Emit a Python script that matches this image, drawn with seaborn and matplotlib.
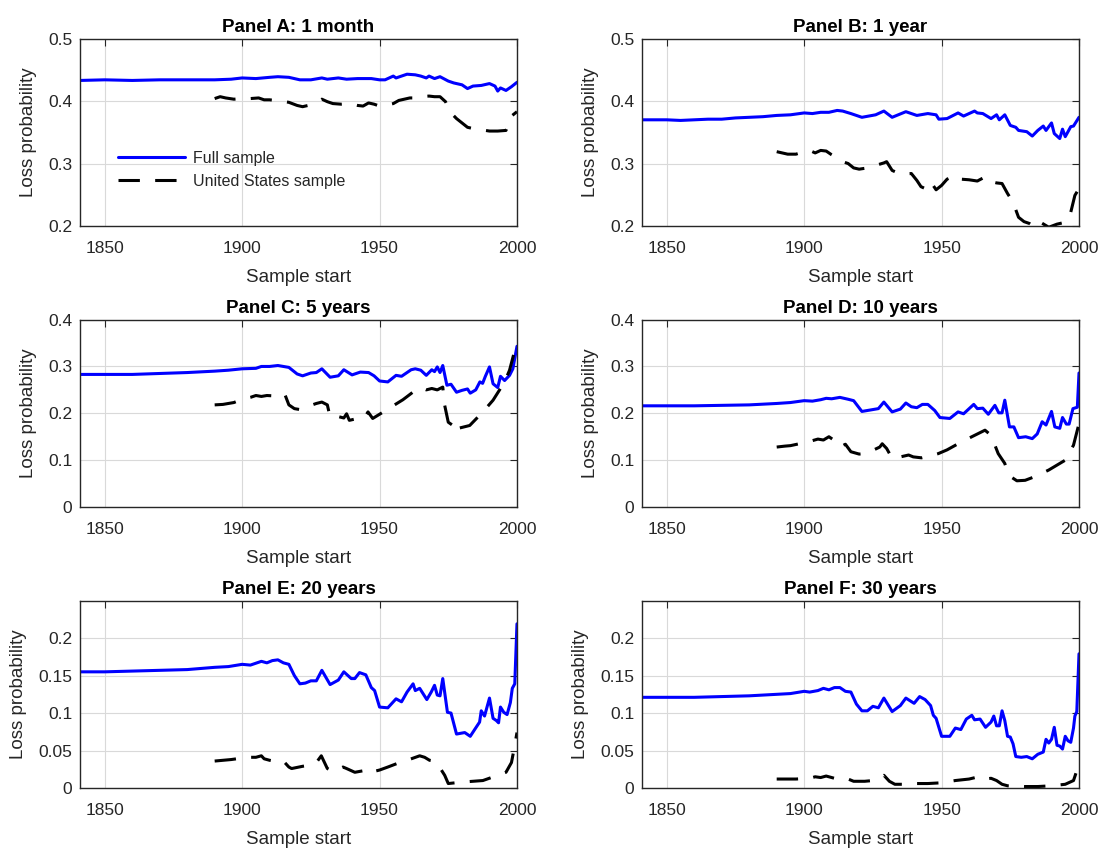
import matplotlib
matplotlib.use('Agg')
import matplotlib.pyplot as plt
import seaborn as sns
from matplotlib.ticker import FuncFormatter

# ── Data ─────────────────────────────────────────────────────────────
# Panel A: 1 month
a_full_yr = [1841, 1850, 1860, 1870, 1880, 1890, 1896, 1900, 1905, 1910, 1913, 1917, 1921, 1925,
             1929, 1931, 1935, 1938, 1942, 1947, 1950, 1952, 1955, 1956, 1960, 1963, 1965, 1967,
             1968, 1970, 1972, 1975, 1977, 1980, 1982, 1984, 1987, 1990, 1992, 1993, 1994, 1996,
             1998, 2000]
a_full = [0.433, 0.434, 0.433, 0.434, 0.434, 0.434, 0.435, 0.437, 0.436, 0.438, 0.439, 0.438, 0.434,
          0.434, 0.437, 0.435, 0.437, 0.435, 0.436, 0.436, 0.434, 0.434, 0.440, 0.437, 0.443, 0.442,
          0.440, 0.437, 0.440, 0.436, 0.439, 0.432, 0.429, 0.426, 0.420, 0.424, 0.425, 0.428, 0.424,
          0.416, 0.421, 0.417, 0.423, 0.430]
a_us_yr = [1890, 1892, 1894, 1897, 1900, 1903, 1906, 1908, 1910, 1914, 1917, 1920, 1922, 1925, 1927,
           1929, 1931, 1933, 1936, 1939, 1942, 1944, 1946, 1948, 1950, 1953, 1955, 1957, 1959, 1961,
           1963, 1965, 1968, 1970, 1972, 1974, 1976, 1978, 1980, 1982, 1985, 1987, 1990, 1993, 1996,
           1998, 2000]
a_us = [0.404, 0.407, 0.405, 0.403, 0.404, 0.404, 0.405, 0.402, 0.402, 0.400, 0.398, 0.393, 0.391,
        0.394, 0.398, 0.403, 0.399, 0.396, 0.395, 0.396, 0.393, 0.392, 0.397, 0.395, 0.392, 0.394,
        0.396, 0.401, 0.403, 0.405, 0.405, 0.407, 0.408, 0.407, 0.407, 0.399, 0.381, 0.372, 0.365,
        0.358, 0.355, 0.354, 0.352, 0.352, 0.353, 0.376, 0.383]

# Panel B: 1 year
b_full_yr = [1841, 1850, 1855, 1860, 1865, 1870, 1875, 1880, 1885, 1890, 1895, 1900, 1903, 1906,
             1909, 1912, 1914, 1917, 1921, 1926, 1929, 1932, 1937, 1941, 1945, 1948, 1949, 1952,
             1956, 1958, 1962, 1963, 1965, 1968, 1970, 1971, 1973, 1975, 1977, 1978, 1981, 1983,
             1985, 1987, 1988, 1990, 1991, 1993, 1994, 1995, 1997, 1998, 2000]
b_full = [0.370, 0.370, 0.369, 0.370, 0.371, 0.371, 0.373, 0.374, 0.375, 0.377, 0.378, 0.381, 0.380,
          0.382, 0.382, 0.385, 0.384, 0.380, 0.374, 0.378, 0.384, 0.374, 0.383, 0.377, 0.380, 0.378,
          0.371, 0.372, 0.381, 0.376, 0.384, 0.381, 0.380, 0.372, 0.378, 0.370, 0.378, 0.361, 0.358,
          0.353, 0.351, 0.344, 0.353, 0.360, 0.353, 0.365, 0.348, 0.340, 0.355, 0.343, 0.359, 0.360,
          0.374]
b_us_yr = [1890, 1892, 1894, 1897, 1900, 1902, 1904, 1906, 1908, 1910, 1912, 1914, 1916, 1918, 1920,
           1923, 1926, 1929, 1930, 1932, 1935, 1939, 1941, 1942.5, 1944, 1946, 1948, 1950, 1952,
           1955, 1957, 1960, 1963, 1966, 1968, 1970, 1972, 1974, 1976, 1978, 1980, 1982, 1984, 1986,
           1989, 1992, 1995, 1997, 1998.5, 2000]
b_us = [0.319, 0.317, 0.315, 0.315, 0.319, 0.321, 0.317, 0.321, 0.320, 0.314, 0.309, 0.303, 0.300,
        0.293, 0.291, 0.293, 0.297, 0.301, 0.303, 0.289, 0.283, 0.284, 0.273, 0.263, 0.260, 0.271,
        0.258, 0.265, 0.275, 0.281, 0.275, 0.274, 0.272, 0.279, 0.271, 0.269, 0.268, 0.252, 0.238,
        0.214, 0.207, 0.204, 0.198, 0.206, 0.198, 0.203, 0.206, 0.222, 0.249, 0.260]

# Panel C: 5 years
c_full_yr = [1841, 1850, 1860, 1870, 1880, 1890, 1895, 1900, 1905, 1907, 1910, 1913, 1917, 1920,
             1922, 1925, 1927, 1929, 1932, 1935, 1937, 1940, 1943, 1946, 1948, 1950, 1953, 1956,
             1958, 1961.5, 1963, 1965, 1967, 1969, 1970, 1971, 1972, 1973, 1974.5, 1976, 1978, 1980,
             1982, 1983, 1985, 1986.5, 1987.5, 1988.5, 1990, 1991.3, 1993, 1994, 1995.5, 1997.3,
             1998.5, 2000]
c_full = [0.283, 0.283, 0.283, 0.285, 0.287, 0.290, 0.292, 0.295, 0.296, 0.300, 0.300, 0.302, 0.298,
          0.284, 0.280, 0.286, 0.287, 0.295, 0.277, 0.280, 0.293, 0.282, 0.288, 0.287, 0.280, 0.269,
          0.267, 0.281, 0.279, 0.293, 0.295, 0.292, 0.281, 0.293, 0.289, 0.299, 0.287, 0.302, 0.260,
          0.262, 0.245, 0.249, 0.252, 0.243, 0.250, 0.267, 0.264, 0.279, 0.299, 0.263, 0.255, 0.279,
          0.270, 0.281, 0.295, 0.343]
c_us_yr = [1890, 1893, 1897, 1900, 1903, 1905, 1907, 1909, 1912, 1915.5, 1917, 1919, 1921, 1924,
           1927, 1929, 1931, 1932, 1935, 1937, 1938, 1939, 1942, 1944.5, 1945.8, 1947.5, 1950, 1953,
           1958.5, 1963, 1965, 1967, 1969, 1971, 1973, 1973.7, 1975, 1976.7, 1977.3, 1978, 1982.8,
           1987.6, 1991.3, 1995.5, 1997.3, 1999, 2000]
c_us = [0.218, 0.219, 0.223, 0.230, 0.234, 0.238, 0.236, 0.238, 0.237, 0.241, 0.218, 0.210, 0.208,
        0.215, 0.221, 0.224, 0.218, 0.192, 0.193, 0.190, 0.199, 0.185, 0.189, 0.190, 0.203, 0.189,
        0.198, 0.209, 0.229, 0.249, 0.255, 0.250, 0.253, 0.250, 0.256, 0.217, 0.181, 0.174, 0.181,
        0.167, 0.174, 0.203, 0.228, 0.267, 0.292, 0.330, 0.345]

# Panel D: 10 years
d_full_yr = [1841, 1850, 1860, 1870, 1880, 1890, 1895, 1900, 1903, 1906, 1908, 1910, 1913, 1916,
             1918, 1921, 1925, 1927, 1929, 1932, 1935, 1937, 1939, 1941, 1943, 1945, 1947.5, 1949.4,
             1953, 1956, 1958, 1961.7, 1963, 1965, 1967, 1969.4, 1970.8, 1972, 1973, 1974.7, 1976.3,
             1978, 1980.6, 1983, 1984.8, 1986.6, 1988, 1990, 1991.2, 1993, 1994, 1995.4, 1996.4,
             1997.8, 1999.4, 2000]
d_full = [0.216, 0.216, 0.216, 0.217, 0.218, 0.221, 0.223, 0.227, 0.226, 0.229, 0.232, 0.231, 0.234,
          0.230, 0.227, 0.204, 0.208, 0.210, 0.224, 0.203, 0.209, 0.222, 0.214, 0.212, 0.219, 0.219,
          0.206, 0.191, 0.189, 0.203, 0.199, 0.219, 0.210, 0.211, 0.198, 0.217, 0.201, 0.201, 0.228,
          0.171, 0.171, 0.148, 0.150, 0.146, 0.156, 0.182, 0.175, 0.204, 0.171, 0.168, 0.191, 0.177,
          0.177, 0.210, 0.213, 0.286]
d_us_yr = [1890, 1893, 1895, 1899, 1902, 1905, 1907, 1909, 1911, 1913, 1915, 1917, 1920, 1922, 1925,
           1927.5, 1928.4, 1930, 1932, 1935, 1938, 1939.7, 1942.7, 1945, 1948.8, 1952, 1956, 1961,
           1965.8, 1968, 1970.6, 1973, 1974.3, 1977.4, 1980.4, 1984, 1989, 1995, 1998, 2000]
d_us = [0.128, 0.130, 0.131, 0.136, 0.140, 0.145, 0.143, 0.150, 0.142, 0.128, 0.134, 0.118, 0.113,
        0.114, 0.121, 0.128, 0.135, 0.125, 0.104, 0.107, 0.111, 0.107, 0.105, 0.108, 0.114, 0.122,
        0.135, 0.150, 0.164, 0.153, 0.114, 0.093, 0.068, 0.056, 0.057, 0.065, 0.079, 0.100, 0.132,
        0.178]

# Panel E: 20 years
e_full_yr = [1841, 1850, 1860, 1870, 1880, 1890, 1895, 1900, 1903, 1907, 1909, 1911, 1913, 1915,
             1917, 1919, 1921, 1923, 1925, 1927, 1929, 1932, 1935, 1937, 1939.7, 1941, 1942.7, 1945,
             1947, 1948.2, 1950, 1953, 1956, 1958, 1960, 1962.2, 1963, 1964.6, 1967.2, 1968.8, 1970,
             1971, 1972, 1973, 1974.7, 1976, 1978, 1981, 1983, 1984.6, 1986.4, 1987, 1988.2, 1990,
             1991.3, 1992.5, 1993.3, 1994, 1995.2, 1996.4, 1997.6, 1998.3, 1999.2, 2000]
e_full = [0.155, 0.155, 0.156, 0.157, 0.158, 0.161, 0.162, 0.165, 0.164, 0.169, 0.167, 0.170, 0.171,
          0.167, 0.165, 0.150, 0.139, 0.140, 0.143, 0.143, 0.157, 0.138, 0.144, 0.155, 0.146, 0.146,
          0.154, 0.151, 0.134, 0.130, 0.108, 0.107, 0.119, 0.115, 0.128, 0.139, 0.130, 0.133, 0.118,
          0.128, 0.137, 0.124, 0.123, 0.146, 0.101, 0.100, 0.072, 0.074, 0.069, 0.078, 0.088, 0.103,
          0.096, 0.120, 0.093, 0.090, 0.087, 0.108, 0.101, 0.098, 0.114, 0.133, 0.139, 0.219]
e_us_yr = [1890, 1893, 1896, 1900, 1903, 1905, 1907, 1908, 1910, 1913, 1915, 1917, 1918, 1922, 1924,
           1927, 1928.8, 1931, 1933, 1936.7, 1938, 1941, 1944, 1945.8, 1947.8, 1950, 1953, 1957.3,
           1960, 1964.6, 1966.4, 1968.2, 1970, 1971.8, 1973.7, 1975, 1980.3, 1987.6, 1993, 1996,
           1998, 1999.2, 2000]
e_us = [0.036, 0.037, 0.038, 0.040, 0.041, 0.041, 0.043, 0.039, 0.037, 0.035, 0.036, 0.028, 0.026,
        0.029, 0.030, 0.034, 0.043, 0.026, 0.022, 0.028, 0.026, 0.021, 0.023, 0.026, 0.022, 0.024,
        0.028, 0.034, 0.037, 0.043, 0.041, 0.037, 0.036, 0.028, 0.017, 0.006, 0.008, 0.010, 0.017,
        0.021, 0.034, 0.057, 0.074]

# Panel F: 30 years
f_full_yr = [1841, 1850, 1860, 1870, 1880, 1890, 1895, 1900, 1902, 1905, 1907, 1909, 1911, 1913,
             1915, 1917, 1919, 1921, 1923, 1925, 1927, 1929, 1932, 1935, 1937, 1940, 1942, 1944,
             1946, 1947, 1948, 1950, 1953, 1955, 1957, 1959, 1961, 1962, 1964, 1966, 1968, 1969,
             1970, 1971, 1972, 1973, 1974, 1975, 1976, 1977, 1979, 1981, 1983, 1985, 1987, 1988,
             1989, 1990, 1991, 1992, 1993, 1994, 1995, 1996, 1997, 1998, 1998.5, 1999.2, 2000]
f_full = [0.121, 0.121, 0.121, 0.122, 0.123, 0.125, 0.126, 0.129, 0.128, 0.130, 0.133, 0.131, 0.134,
          0.134, 0.129, 0.128, 0.112, 0.103, 0.103, 0.109, 0.107, 0.120, 0.102, 0.110, 0.120, 0.113,
          0.122, 0.118, 0.110, 0.097, 0.093, 0.069, 0.069, 0.080, 0.078, 0.092, 0.097, 0.091, 0.092,
          0.081, 0.088, 0.096, 0.083, 0.083, 0.103, 0.090, 0.069, 0.068, 0.059, 0.042, 0.041, 0.042,
          0.039, 0.045, 0.048, 0.065, 0.060, 0.065, 0.081, 0.057, 0.056, 0.052, 0.069, 0.063, 0.061,
          0.080, 0.096, 0.102, 0.179]
f_us_yr = [1890, 1893, 1897, 1902, 1904, 1906, 1908, 1910, 1913, 1916, 1918, 1922, 1925, 1927, 1929,
           1931, 1933, 1937, 1940, 1945, 1950, 1955, 1960, 1964, 1966, 1968, 1970, 1972, 1974, 1980,
           1985, 1990, 1995, 1998, 2000]
f_us = [0.012, 0.012, 0.012, 0.013, 0.015, 0.014, 0.016, 0.014, 0.011, 0.012, 0.009, 0.009, 0.010,
        0.012, 0.017, 0.009, 0.005, 0.005, 0.006, 0.006, 0.007, 0.010, 0.012, 0.0155, 0.012, 0.013,
        0.010, 0.005, 0.003, 0.002, 0.002, 0.003, 0.005, 0.010, 0.032]

titles = ['Panel A: 1 month', 'Panel B: 1 year', 'Panel C: 5 years',
          'Panel D: 10 years', 'Panel E: 20 years', 'Panel F: 30 years']
x_ticks = [1850, 1900, 1950, 2000]
y_ticks_top = [0.2, 0.3, 0.4, 0.5]
y_ticks_mid = [0, 0.1, 0.2, 0.3, 0.4]
y_ticks_bot = [0, 0.05, 0.1, 0.15, 0.2]

panels = [
    (a_full_yr, a_full, a_us_yr, a_us, (0.2, 0.5), y_ticks_top),
    (b_full_yr, b_full, b_us_yr, b_us, (0.2, 0.5), y_ticks_top),
    (c_full_yr, c_full, c_us_yr, c_us, (0, 0.4), y_ticks_mid),
    (d_full_yr, d_full, d_us_yr, d_us, (0, 0.4), y_ticks_mid),
    (e_full_yr, e_full, e_us_yr, e_us, (0, 0.25), y_ticks_bot),
    (f_full_yr, f_full, f_us_yr, f_us, (0, 0.25), y_ticks_bot),
]

sns.set_theme(style="white")
plt.rcParams['font.family'] = ['Liberation Sans', 'DejaVu Sans']

TXT = '#262626'
fig = plt.figure(figsize=(10.99, 8.5), dpi=100)

# axes boxes in figure fractions (left, bottom, width, height)
col_x = [0.0728, 0.5842]
row_y = [0.7341, 0.4035, 0.0729]
w, h = 0.3976, 0.2205

for i, (fy, fv, uy, uv, ylim, yt) in enumerate(panels):
    ax = fig.add_axes([col_x[i % 2], row_y[i // 2], w, h])
    sns.lineplot(x=fy, y=fv, ax=ax, color='#0000FF', lw=2.2, label='Full sample')
    sns.lineplot(x=uy, y=uv, ax=ax, color='black', lw=2.2, linestyle=(0, (7, 5)),
                 label='United States sample')

    ax.set_xlim(1841, 2000)
    ax.set_ylim(*ylim)
    ax.set_xticks(x_ticks)
    ax.set_yticks(yt)
    ax.yaxis.set_major_formatter(FuncFormatter(lambda v, p: f'{v:g}'))
    ax.grid(True, color='#d9d9d9', lw=0.8)
    ax.set_axisbelow(True)
    ax.tick_params(direction='in', top=True, right=True, length=5, width=0.8,
                   labelsize=12.5, colors=TXT)
    ax.tick_params(axis='x', pad=10.5)
    ax.tick_params(axis='y', pad=5.5)
    for s in ax.spines.values():
        s.set_color(TXT)
        s.set_linewidth(1.0)

    ax.set_title(titles[i], fontsize=13.5, fontweight='bold', color='black', pad=5)
    ax.set_xlabel('Sample start', fontsize=13.5, color=TXT, labelpad=9.5)
    ax.set_ylabel('Loss probability', fontsize=13.5, color=TXT, labelpad=8)

    if i == 0:
        ax.legend(loc='center left', bbox_to_anchor=(0.072, 0.30), frameon=False,
                  fontsize=11.5, handlelength=4.2, handletextpad=0.5, borderaxespad=0)
    else:
        ax.get_legend().remove()

fig.savefig('out.png', dpi=100)
